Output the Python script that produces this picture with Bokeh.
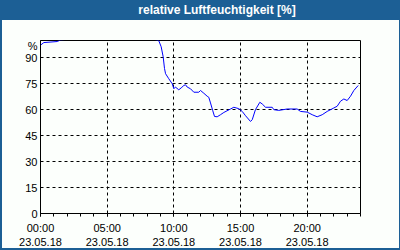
from bokeh.plotting import figure
from bokeh.layouts import column
from bokeh.models import Range1d, FixedTicker, InlineStyleSheet, Div
from bokeh.embed import file_html
from bokeh.resources import INLINE

title_text = "relative Luftfeuchtigkeit [%]"

# time in hours since 23.05.18 00:00, relative humidity in %
hours = [0.0, 0.25, 1.25, 1.5, 3.0, 5.0, 7.0, 8.5, 8.87, 9.05, 9.2, 9.3, 9.38, 9.62,
         9.88, 10.0, 10.12, 10.37, 10.55, 10.75, 10.88, 11.0, 11.25, 11.5, 11.87,
         12.0, 12.25, 12.5, 12.62, 12.75, 12.92, 13.05, 13.25, 13.5, 13.75, 14.25,
         14.5, 14.87, 15.13, 15.38, 15.75, 15.88, 16.12, 16.45, 16.63, 16.88, 17.38,
         17.5, 17.87, 18.5, 19.25, 19.5, 20.0, 20.38, 20.75, 21.13, 21.5, 22.0,
         22.25, 22.5, 22.75, 23.0, 23.25, 23.5, 23.83]
humidity = [97.3, 98.8, 99.4, 100.3, 101.5, 102.0, 101.5, 100.8, 99.9, 96.4, 90.6,
            83.8, 80.8, 77.9, 75.0, 72.1, 73.1, 71.5, 72.6, 74.0, 74.4, 73.1, 72.1,
            70.1, 70.1, 71.1, 69.5, 67.8, 67.2, 63.9, 59.4, 56.1, 55.9, 57.1, 58.4,
            60.4, 61.4, 60.6, 59.0, 56.5, 53.2, 54.2, 60.0, 64.3, 63.3, 61.4, 61.4,
            60.0, 59.6, 60.4, 60.4, 59.0, 58.6, 57.1, 55.9, 57.1, 59.0, 61.0, 62.0,
            64.9, 66.2, 65.3, 67.8, 71.1, 74.0]

x_ticks = [0, 5, 10, 15, 20]
x_tick_labels = ["00:00\n23.05.18", "05:00\n23.05.18", "10:00\n23.05.18",
                 "15:00\n23.05.18", "20:00\n23.05.18"]
x_minor = list(range(25))
y_ticks = [0, 15, 30, 45, 60, 75, 90]
y_unit_pos = 97
y_unit = "%"

BLUE = "#1c5f95"
BG = "#fcfffc"

title_css = f""":host {{
  background: {BLUE};
  color: white;
  font: bold 12px 'Liberation Sans', sans-serif;
  line-height: 20px;
  text-align: center;
  text-indent: 34px;
  white-space: nowrap;
  overflow: hidden;
}}"""
header = Div(text=title_text, width=400, height=20, margin=(0, 0, 0, 0),
             stylesheets=[InlineStyleSheet(css=title_css)])

p = figure(width=400, height=230, output_backend="svg", toolbar_location=None,
           x_range=Range1d(0, 24), y_range=Range1d(0, 100),
           min_border_left=40, min_border_right=40, min_border_top=20,
           min_border_bottom=20, margin=(0, 0, 0, 0))

p.background_fill_color = BG
p.border_fill_color = None
p.outline_line_color = "black"
p.outline_line_width = 1

plot_css = f""":host {{
  background: {BG};
  box-shadow: inset 2px 0 0 {BLUE}, inset -1px 0 0 {BLUE}, inset 0 -2px 0 {BLUE};
}}"""
p.stylesheets = [InlineStyleSheet(css=plot_css)]

p.line(hours, humidity, line_color="#0000ff", line_width=1)

for g, t in ((p.xgrid, x_ticks), (p.ygrid, y_ticks)):
    g.ticker = FixedTicker(ticks=t)
    g.grid_line_color = "black"
    g.grid_line_dash = "3 3"
    g.grid_line_width = 1

xa = p.xaxis[0]
xa.ticker = FixedTicker(ticks=x_ticks, minor_ticks=x_minor)
xa.major_label_overrides = {t: l for t, l in zip(x_ticks, x_tick_labels)}
xa.major_tick_in = 0
xa.major_tick_out = 3
xa.minor_tick_in = 0
xa.minor_tick_out = 3
xa.major_tick_line_color = "black"
xa.minor_tick_line_color = "black"
xa.axis_line_color = "black"
xa.major_label_standoff = 5
xa.major_label_text_font = "Liberation Sans"
xa.major_label_text_font_size = "11px"
xa.major_label_text_color = "black"

ya = p.yaxis[0]
ya.ticker = FixedTicker(ticks=y_ticks + [y_unit_pos])
ya.major_label_overrides = {y_unit_pos: y_unit}
ya.major_tick_in = 0
ya.major_tick_out = 0
ya.minor_tick_in = 0
ya.minor_tick_out = 0
ya.axis_line_color = "black"
ya.major_label_standoff = 3
ya.major_label_text_font = "Liberation Sans"
ya.major_label_text_font_size = "11px"
ya.major_label_text_color = "black"

layout = column(header, p, spacing=0, margin=(0, 0, 0, 0))

open("out.html", "w").write(file_html(layout, INLINE))
